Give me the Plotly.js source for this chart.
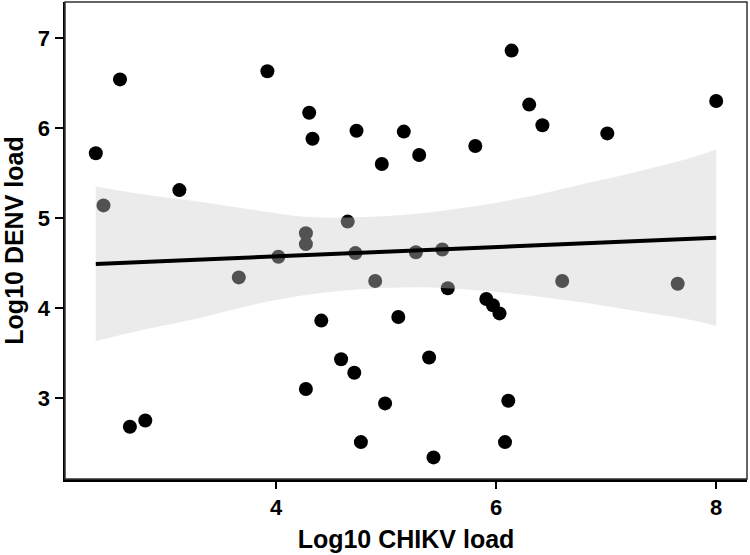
<!DOCTYPE html>
<html>
<head>
<meta charset="utf-8">
<script src="https://cdn.plot.ly/plotly-3.0.1.min.js"></script>
<style>html,body{margin:0;padding:0;background:#fff;}#chart{width:750px;height:555px;}</style>
</head>
<body>
<div id="chart"></div>
<script>
// Observed samples: Log10 CHIKV load (x) vs Log10 DENV load (y)
const chikvLoad = [2.36, 2.58, 3.12, 2.67, 2.81, 3.92, 4.30, 4.33, 4.73, 5.16, 5.30, 4.96, 5.81,
  5.91, 5.97, 6.03, 4.41, 5.11, 4.59, 4.71, 5.39, 4.27, 4.99, 4.77, 5.43, 6.14, 6.30, 6.42,
  7.01, 8.00, 6.11, 6.08, 2.43, 3.66, 4.65, 4.27, 4.27, 4.02, 4.72, 5.27, 5.51, 4.90, 5.56,
  6.60, 7.65];
const denvLoad = [5.72, 6.54, 5.31, 2.68, 2.75, 6.63, 6.17, 5.88, 5.97, 5.96, 5.70, 5.60, 5.80,
  4.10, 4.03, 3.94, 3.86, 3.90, 3.43, 3.28, 3.45, 3.10, 2.94, 2.51, 2.34, 6.86, 6.26, 6.03,
  5.94, 6.30, 2.97, 2.51, 5.14, 4.34, 4.96, 4.83, 4.71, 4.57, 4.61, 4.62, 4.65, 4.30, 4.22,
  4.30, 4.27];

// Linear fit line and confidence band
const fitX = [2.36, 8.00];
const fitY = [4.49, 4.78];
const bandX = [2.36, 2.8, 3.3, 3.8, 4.3, 4.8, 5.3, 5.8, 6.3, 6.8, 7.3, 7.8, 8.0];
const bandUpper = [5.35, 5.26, 5.18, 5.09, 5.01, 5.01, 5.05, 5.13, 5.24, 5.38, 5.52, 5.68, 5.76];
const bandLower = [3.63, 3.76, 3.89, 4.04, 4.15, 4.21, 4.23, 4.20, 4.14, 4.06, 3.96, 3.86, 3.80];

const xTicks = [4, 6, 8];
const yTicks = [3, 4, 5, 6, 7];
const xLabel = 'Log10 CHIKV load';
const yLabel = 'Log10 DENV load';

const fontFam = 'Liberation Sans, Arial, Helvetica, sans-serif';

const traces = [
  {
    x: chikvLoad, y: denvLoad, type: 'scatter', mode: 'markers',
    marker: {color: '#000000', size: 14, line: {width: 0}},
    hoverinfo: 'x+y', showlegend: false
  },
  {
    x: bandX, y: bandLower, type: 'scatter', mode: 'lines',
    line: {width: 0, shape: 'spline', color: 'rgba(0,0,0,0)'},
    hoverinfo: 'skip', showlegend: false
  },
  {
    x: bandX, y: bandUpper, type: 'scatter', mode: 'lines', fill: 'tonexty',
    fillcolor: 'rgba(205,205,205,0.40)',
    line: {width: 0, shape: 'spline', color: 'rgba(0,0,0,0)'},
    hoverinfo: 'skip', showlegend: false
  },
  {
    x: fitX, y: fitY, type: 'scatter', mode: 'lines',
    line: {color: '#000000', width: 4},
    hoverinfo: 'skip', showlegend: false
  }
];

const layout = {
  width: 750, height: 555,
  margin: {l: 65, r: 3, t: 2, b: 76},
  paper_bgcolor: '#ffffff', plot_bgcolor: '#ffffff',
  font: {family: fontFam, color: '#000000'},
  xaxis: {
    range: [2.08, 8.28], tickvals: xTicks, ticktext: xTicks.map(String),
    showgrid: false, zeroline: false,
    showline: true, linecolor: '#000000', linewidth: 2.5,
    ticks: 'outside', ticklen: 7, tickwidth: 2, tickcolor: '#000000',
    tickfont: {family: fontFam, size: 22, color: '#000000', weight: 'bold'},
    title: {text: xLabel, font: {family: fontFam, size: 25, color: '#000000', weight: 'bold'}, standoff: 12}
  },
  yaxis: {
    range: [2.10, 7.40], tickvals: yTicks, ticktext: yTicks.map(String),
    showgrid: false, zeroline: false,
    showline: true, linecolor: '#000000', linewidth: 2.5,
    ticks: 'outside', ticklen: 8, tickwidth: 2, tickcolor: '#000000',
    tickfont: {family: fontFam, size: 22, color: '#000000', weight: 'bold'},
    title: {text: yLabel, font: {family: fontFam, size: 25, color: '#000000', weight: 'bold'}, standoff: 9}
  },
  shapes: [
    {type: 'rect', xref: 'paper', yref: 'paper', x0: 0, x1: 1, y0: 0, y1: 1,
     line: {color: '#333333', width: 1.5}, fillcolor: 'rgba(0,0,0,0)', layer: 'above'}
  ]
};

Plotly.newPlot('chart', traces, layout, {displayModeBar: false, staticPlot: true});
</script>
</body>
</html>
